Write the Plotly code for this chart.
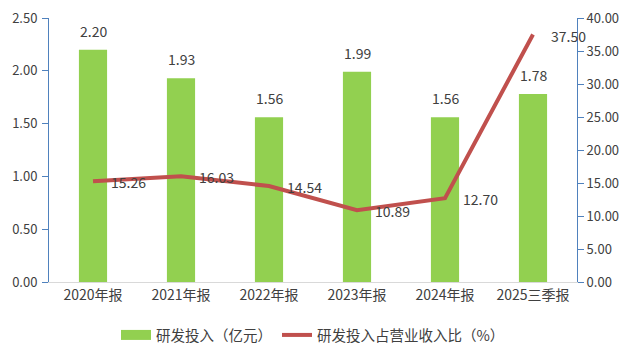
import plotly.graph_objects as go

categories = ["2020年报", "2021年报", "2022年报", "2023年报", "2024年报", "2025三季报"]
rd_invest = [2.20, 1.93, 1.56, 1.99, 1.56, 1.78]
rd_ratio = [15.26, 16.03, 14.54, 10.89, 12.70, 37.50]

FONT = "Noto Sans CJK SC, Microsoft YaHei, sans-serif"
TXT = "#404040"
GREEN = "#92D050"
RED = "#C0504D"
AXIS_BLUE = "#4F81BD"

W, H = 626, 352  # page body has an 8px margin

fig = go.Figure()
fig.add_trace(go.Bar(
    x=categories, y=rd_invest, name="研发投入（亿元）", showlegend=False,
    marker=dict(color=GREEN, line=dict(width=0)), width=0.32,
))
fig.add_trace(go.Scatter(
    x=categories, y=rd_ratio, name="研发投入占营业收入比（%）", yaxis="y2",
    mode="lines", line=dict(color=RED, width=4), showlegend=False,
))
# legend entries
fig.add_trace(go.Scatter(x=[None], y=[None], mode="lines", name="研发投入（亿元）",
                         line=dict(color=GREEN, width=10)))
fig.add_trace(go.Scatter(x=[None], y=[None], mode="lines", name="研发投入占营业收入比（%）",
                         line=dict(color=RED, width=4)))

for c, v in zip(categories, rd_invest):
    fig.add_annotation(x=c, y=v, xref="x", yref="y", text=f"{v:.2f}",
                       showarrow=False, yshift=19, yanchor="middle",
                       font=dict(size=14, color=TXT, family=FONT))
for c, v in zip(categories, rd_ratio):
    fig.add_annotation(x=c, y=v, xref="x", yref="y2", text=f"{v:.2f}",
                       showarrow=False, xanchor="left", yanchor="middle",
                       xshift=16, yshift=-1,
                       font=dict(size=14, color=TXT, family=FONT))

fig.update_layout(
    width=W, height=H,
    margin=dict(l=41, r=57, t=10, b=78, autoexpand=False),
    paper_bgcolor="white", plot_bgcolor="white",
    font=dict(family=FONT, color=TXT, size=12),
    showlegend=True,
    legend=dict(orientation="h", x=0.5, xanchor="center", y=25/H, yanchor="middle",
                yref="container", itemsizing="trace",
                font=dict(size=14.5, color=TXT, family=FONT)),
    xaxis=dict(range=[-0.5, 5.5], showline=True, linecolor="#D9D9D9", linewidth=1,
               ticks="", tickfont=dict(size=14, color=TXT), showgrid=False,
               automargin=False),
    yaxis=dict(range=[0, 2.5], dtick=0.5, tickformat=".2f", showline=True,
               linecolor=AXIS_BLUE, linewidth=1, ticks="outside", ticklen=6,
               tickcolor=AXIS_BLUE, showgrid=False, zeroline=False, automargin=False,
               ticklabelstandoff=2, ticklabeloverflow="allow",
               tickfont=dict(size=13, color=TXT)),
    yaxis2=dict(range=[0, 40], dtick=5, tickformat=".2f", overlaying="y", side="right",
                showline=True, linecolor=AXIS_BLUE, linewidth=1, ticks="outside",
                ticklen=6, tickcolor=AXIS_BLUE, showgrid=False, zeroline=False,
                automargin=False, ticklabeloverflow="allow",
                tickfont=dict(size=13, color=TXT)),
)
fig.write_html("out.html")
